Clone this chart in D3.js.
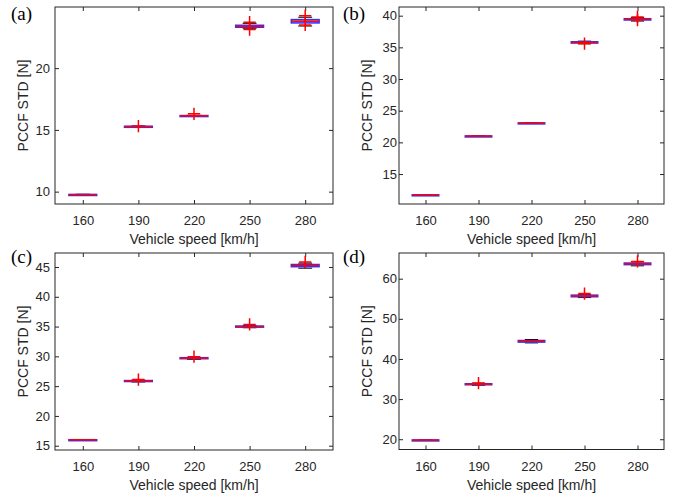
<!DOCTYPE html>
<html>
<head>
<meta charset="utf-8">
<script src="https://cdn.jsdelivr.net/npm/d3@7"></script>
<style>
  body { margin: 0; background: #fff; }
  svg { font-family: "Liberation Sans", Arial, sans-serif; }
  .tick text { fill: #262626; font-size: 13px; }
  .panel-tag { font-family: "Liberation Serif", "Times New Roman", serif; font-size: 19px; fill: #000; }
  .axis-label { fill: #262626; font-size: 14px; }
</style>
</head>
<body>
<svg id="chart" width="673" height="496"></svg>
<script>
const SPEEDS = ["160", "190", "220", "250", "280"];

// box stats per speed: [lower whisker, q1, median, q3, upper whisker]
const statsA = [
  [9.73, 9.75, 9.76, 9.77, 9.79],
  [15.22, 15.25, 15.27, 15.29, 15.32],
  [16.10, 16.12, 16.14, 16.16, 16.18],
  [23.23, 23.31, 23.39, 23.47, 23.63],
  [23.41, 23.66, 23.80, 23.93, 24.12]
];
const outliersA = [[], [15.30], [16.30], [23.72, 23.12], [24.25, 23.50]];

const statsB = [
  [11.66, 11.68, 11.70, 11.72, 11.74],
  [20.97, 20.99, 21.00, 21.01, 21.03],
  [23.00, 23.03, 23.05, 23.07, 23.10],
  [35.55, 35.68, 35.78, 35.88, 35.98],
  [39.15, 39.32, 39.42, 39.52, 39.70]
];
const outliersB = [[], [], [], [35.60], [39.80, 39.30]];

const statsC = [
  [15.95, 15.97, 15.99, 16.01, 16.03],
  [25.70, 25.78, 25.86, 25.94, 26.00],
  [29.50, 29.60, 29.70, 29.78, 29.85],
  [34.80, 34.90, 35.00, 35.08, 35.20],
  [44.80, 45.05, 45.25, 45.42, 45.65]
];
const outliersC = [[], [26.10], [29.95], [35.35], [45.85]];

const statsD = [
  [19.70, 19.74, 19.78, 19.82, 19.86],
  [33.45, 33.58, 33.70, 33.82, 33.95],
  [44.00, 44.20, 44.40, 44.60, 44.85],
  [55.30, 55.50, 55.70, 55.90, 56.10],
  [63.20, 63.50, 63.70, 63.90, 64.20]
];
const outliersD = [[], [34.00], [], [56.30], [64.30]];

const TICKS_A = [10, 15, 20];
const TICKS_B = [15, 20, 25, 30, 35, 40];
const TICKS_C = [15, 20, 25, 30, 35, 40, 45];
const TICKS_D = [20, 30, 40, 50, 60];

const panels = [
  { tag: "(a)", stats: statsA, outliers: outliersA, ticks: TICKS_A, domain: [9.0, 24.95],
    box: { x0: 55, x1: 333, y0: 7, y1: 204 }, tagPos: [11, 20], labelGap: 5, ylabX: 23 },
  { tag: "(b)", stats: statsB, outliers: outliersB, ticks: TICKS_B, domain: [10.27, 41.37],
    box: { x0: 399, x1: 664, y0: 7, y1: 204 }, tagPos: [343, 20], labelGap: 2, ylabX: 367 },
  { tag: "(c)", stats: statsC, outliers: outliersC, ticks: TICKS_C, domain: [14.28, 47.35],
    box: { x0: 55, x1: 333, y0: 253, y1: 450 }, tagPos: [11, 263], labelGap: 5, ylabX: 23 },
  { tag: "(d)", stats: statsD, outliers: outliersD, ticks: TICKS_D, domain: [17.44, 66.4],
    box: { x0: 399, x1: 664, y0: 253, y1: 449.5 }, tagPos: [343, 263], labelGap: 2, ylabX: 367 }
];

const svg = d3.select("#chart");
const AXIS_COLOR = "#262626";

function drawPanel(p) {
  const { x0, x1, y0, y1 } = p.box;
  const x = d3.scalePoint().domain(SPEEDS).range([x0, x1]).padding(0.5);
  const y = d3.scaleLinear().domain(p.domain).range([y1, y0]);
  const step = x.step();
  const boxW = step * 0.5;
  const capW = boxW * 0.5;

  const g = svg.append("g");

  // axes: ticks inward on all four sides (matlab box on)
  const tickLen = 4;
  const left = g.append("g").attr("transform", `translate(${x0},0)`)
    .call(d3.axisLeft(y).tickValues(p.ticks).tickSize(-tickLen).tickPadding(p.labelGap));
  const right = g.append("g").attr("transform", `translate(${x1},0)`)
    .call(d3.axisRight(y).tickValues(p.ticks).tickSize(-tickLen).tickFormat(""));
  const bottom = g.append("g").attr("transform", `translate(0,${y1})`)
    .call(d3.axisBottom(x).tickSize(-tickLen).tickPadding(12));
  const top = g.append("g").attr("transform", `translate(0,${y0})`)
    .call(d3.axisTop(x).tickSize(-tickLen).tickFormat(""));
  [left, right, bottom, top].forEach(a => {
    a.select(".domain").remove();
    a.selectAll(".tick line").attr("stroke", AXIS_COLOR);
  });

  g.append("rect")
    .attr("x", x0).attr("y", y0)
    .attr("width", x1 - x0).attr("height", y1 - y0)
    .attr("fill", "none").attr("stroke", AXIS_COLOR).attr("stroke-width", 1);

  // boxes
  const items = SPEEDS.map((s, i) => ({ s, st: p.stats[i], out: p.outliers[i] }));
  const bg = g.selectAll("g.box").data(items).join("g").attr("class", "box");

  bg.append("line")
    .attr("x1", d => x(d.s)).attr("x2", d => x(d.s))
    .attr("y1", d => y(d.st[0])).attr("y2", d => y(d.st[4]))
    .attr("stroke", "#000").attr("stroke-width", 1).attr("stroke-dasharray", "2,1");
  bg.append("line")
    .attr("x1", d => x(d.s) - capW / 2).attr("x2", d => x(d.s) + capW / 2)
    .attr("y1", d => y(d.st[4])).attr("y2", d => y(d.st[4]))
    .attr("stroke", "#000");
  bg.append("line")
    .attr("x1", d => x(d.s) - capW / 2).attr("x2", d => x(d.s) + capW / 2)
    .attr("y1", d => y(d.st[0])).attr("y2", d => y(d.st[0]))
    .attr("stroke", "#000");
  bg.append("rect")
    .attr("x", d => x(d.s) - boxW / 2)
    .attr("y", d => y(d.st[3]))
    .attr("width", boxW)
    .attr("height", d => Math.max(1, y(d.st[1]) - y(d.st[3])))
    .attr("fill", "rgba(90,90,255,0.35)")
    .attr("stroke", "#3030ff").attr("stroke-width", 1.5);
  bg.append("line")
    .attr("x1", d => x(d.s) - boxW / 2).attr("x2", d => x(d.s) + boxW / 2)
    .attr("y1", d => y(d.st[2])).attr("y2", d => y(d.st[2]))
    .attr("stroke", "#ff0000").attr("stroke-width", 1.5);

  // outlier "+" markers
  const sym = d3.symbol().type(d3.symbolCross).size(60);
  bg.each(function (d) {
    d3.select(this).selectAll("path.out").data(d.out).join("path")
      .attr("class", "out")
      .attr("d", d3.symbol().type({ draw(ctx, size) {
        const r = Math.sqrt(size) / 2;
        ctx.moveTo(-r, 0); ctx.lineTo(r, 0);
        ctx.moveTo(0, -r); ctx.lineTo(0, r);
      } }).size(150))
      .attr("transform", v => `translate(${x(d.s)},${y(v)})`)
      .attr("fill", "none").attr("stroke", "#ff0000").attr("stroke-width", 1.5);
  });

  // labels
  g.append("text").attr("class", "axis-label")
    .attr("x", (x0 + x1) / 2).attr("y", y1 + 40)
    .attr("text-anchor", "middle")
    .text("Vehicle speed [km/h]");
  g.append("text").attr("class", "axis-label")
    .attr("transform", `translate(${p.ylabX},${(y0 + y1) / 2}) rotate(-90)`)
    .attr("text-anchor", "middle").attr("dy", "0.35em")
    .text("PCCF STD [N]");
  g.append("text").attr("class", "panel-tag")
    .attr("x", p.tagPos[0]).attr("y", p.tagPos[1])
    .text(p.tag);
}

panels.forEach(drawPanel);
</script>
</body>
</html>
